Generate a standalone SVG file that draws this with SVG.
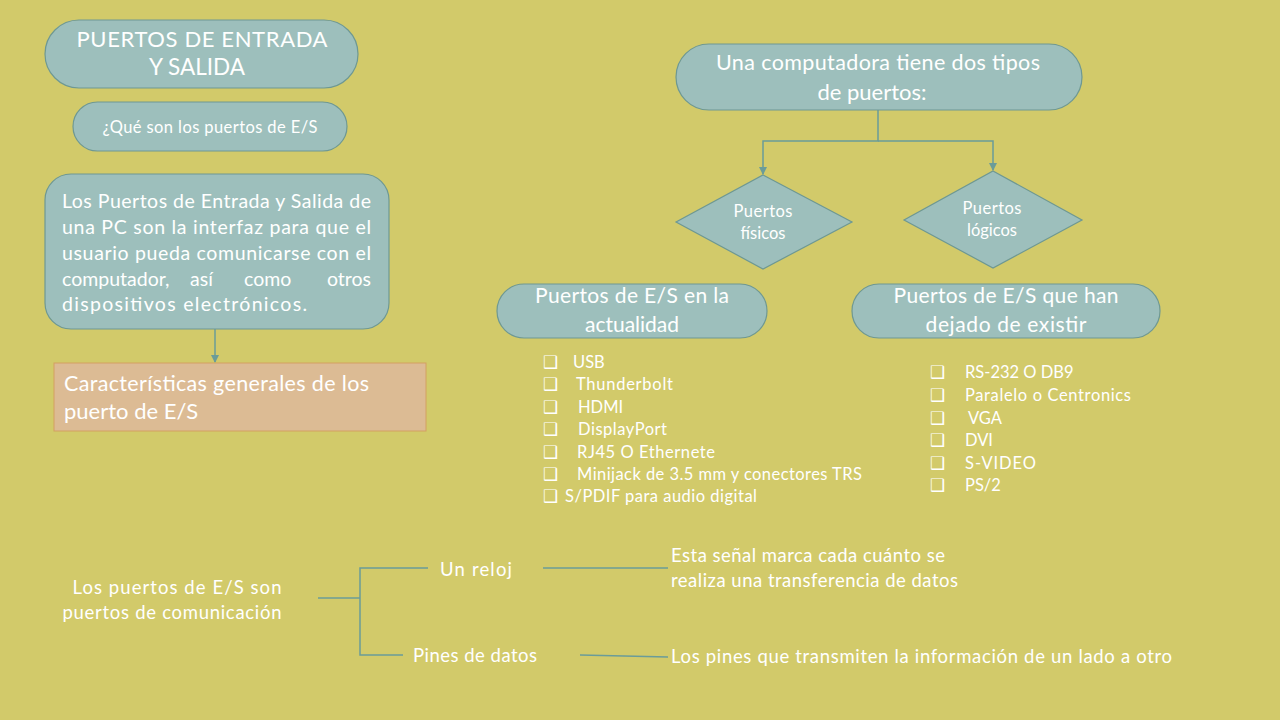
<svg xmlns="http://www.w3.org/2000/svg" width="1280" height="720" viewBox="0 0 1280 720">
<defs>
<style>
.t{font-family:Lato,"Open Sans","Liberation Sans",sans-serif;fill:#FFFFFF;}
.node{fill:#9DBFBC;stroke:#6E9893;stroke-width:1.2;}
.ln{fill:none;stroke:#6A9C99;stroke-width:1.5;}
.cb{font-family:"DejaVu Sans",sans-serif;fill:#FFFFFF;font-size:17px;}
</style>
<marker id="ah" markerWidth="8" markerHeight="8" refX="7" refY="4" orient="auto" markerUnits="userSpaceOnUse">
<path d="M0,0 L8,4 L0,8 Z" fill="#6A9C99"/>
</marker>
</defs>
<rect x="0" y="0" width="1280" height="720" fill="#D2CA6A"/>

<g id="connectors">
<line class="ln" x1="215" y1="329" x2="215" y2="362" marker-end="url(#ah)"/>
<polyline class="ln" points="878,110 878,141 763,141 763,174" marker-end="url(#ah)"/>
<polyline class="ln" points="878,141 993,141 993,170" marker-end="url(#ah)"/>
<line class="ln" x1="318" y1="598" x2="360" y2="598"/>
<polyline class="ln" points="428,568 360,568 360,655 403,655"/>
<line class="ln" x1="543" y1="568" x2="668" y2="568"/>
<line class="ln" x1="580" y1="655" x2="668" y2="657"/>
</g>

<g id="title">
<rect class="node" x="45" y="20" width="313" height="68" rx="34"/>
<text class="t" x="202" y="47" font-size="22" text-anchor="middle" textLength="251" lengthAdjust="spacing">PUERTOS DE ENTRADA</text>
<text class="t" x="197" y="75" font-size="22.5" text-anchor="middle">Y SALIDA</text>
</g>

<g id="que-son">
<rect class="node" x="73" y="102" width="274" height="49" rx="24.5"/>
<text class="t" x="210" y="133" font-size="16.5" text-anchor="middle" textLength="215" lengthAdjust="spacing">¿Qué son los puertos de E/S</text>
</g>

<g id="definicion">
<rect class="node" x="45" y="174" width="344" height="155" rx="26"/>
<text class="t" x="62" y="208" font-size="19.5" textLength="309" lengthAdjust="spacing">Los Puertos de Entrada y Salida de</text>
<text class="t" x="62" y="234" font-size="19.5" textLength="309" lengthAdjust="spacing">una PC son la interfaz para que el</text>
<text class="t" x="62" y="260" font-size="19.5" textLength="309" lengthAdjust="spacing">usuario pueda comunicarse con el</text>
<text class="t" x="62" y="286" font-size="19.5">computador,</text>
<text class="t" x="190" y="286" font-size="19.5">así</text>
<text class="t" x="244" y="286" font-size="19.5">como</text>
<text class="t" x="371" y="286" font-size="19.5" text-anchor="end">otros</text>
<text class="t" x="62" y="311" font-size="19.5" textLength="245" lengthAdjust="spacing">dispositivos electrónicos.</text>
</g>

<g id="caracteristicas">
<rect x="54" y="363" width="372" height="68" fill="#DCBB94" stroke="#D3A060" stroke-width="1"/>
<text class="t" x="64" y="391" font-size="21.5" textLength="305" lengthAdjust="spacing">Características generales de los</text>
<text class="t" x="64" y="419" font-size="22">puerto de E/S</text>
</g>

<g id="tipos">
<rect class="node" x="676" y="44" width="406" height="66" rx="33"/>
<text class="t" x="878" y="70" font-size="21.5" text-anchor="middle" textLength="324" lengthAdjust="spacing">Una computadora tiene dos tipos</text>
<text class="t" x="872" y="100" font-size="22" text-anchor="middle">de puertos:</text>
</g>

<g id="fisicos">
<polygon class="node" points="763,175 852,222 763,269 676,222"/>
<text class="t" x="763" y="217" font-size="16.5" text-anchor="middle" textLength="59" lengthAdjust="spacing">Puertos</text>
<text class="t" x="763" y="239" font-size="16.5" text-anchor="middle">físicos</text>
</g>

<g id="logicos">
<polygon class="node" points="993,171 1082,220 993,268 904,220"/>
<text class="t" x="992" y="214" font-size="16.5" text-anchor="middle" textLength="59" lengthAdjust="spacing">Puertos</text>
<text class="t" x="992" y="236" font-size="16.5" text-anchor="middle">lógicos</text>
</g>

<g id="actualidad">
<rect class="node" x="497" y="284" width="270" height="54" rx="27"/>
<text class="t" x="632" y="303" font-size="21" text-anchor="middle" textLength="194" lengthAdjust="spacing">Puertos de E/S en la</text>
<text class="t" x="632" y="332" font-size="21" text-anchor="middle">actualidad</text>
</g>

<g id="dejado">
<rect class="node" x="852" y="284" width="308" height="54" rx="27"/>
<text class="t" x="1006" y="303" font-size="21" text-anchor="middle" textLength="225" lengthAdjust="spacing">Puertos de E/S que han</text>
<text class="t" x="1006" y="332" font-size="21" text-anchor="middle" textLength="161" lengthAdjust="spacing">dejado de existir</text>
</g>

<g id="lista-actual">
<text class="cb" x="543" y="368">❑</text><text class="t" x="573" y="368" font-size="16.5">USB</text>
<text class="cb" x="543" y="390">❑</text><text class="t" x="576" y="390" font-size="16.5" textLength="97" lengthAdjust="spacing">Thunderbolt</text>
<text class="cb" x="543" y="413">❑</text><text class="t" x="578" y="413" font-size="16.5">HDMI</text>
<text class="cb" x="543" y="435">❑</text><text class="t" x="578" y="435" font-size="16.5" textLength="89" lengthAdjust="spacing">DisplayPort</text>
<text class="cb" x="543" y="458">❑</text><text class="t" x="577" y="458" font-size="16.5" textLength="138" lengthAdjust="spacing">RJ45 O Ethernete</text>
<text class="cb" x="543" y="480">❑</text><text class="t" x="577" y="480" font-size="16.5" textLength="285" lengthAdjust="spacing">Minijack de 3.5 mm y conectores TRS</text>
<text class="cb" x="543" y="502">❑</text><text class="t" x="565" y="502" font-size="16.5" textLength="192" lengthAdjust="spacing">S/PDIF para audio digital</text>
</g>

<g id="lista-antiguos">
<text class="cb" x="930" y="378">❑</text><text class="t" x="965" y="378" font-size="16.5">RS-232 O DB9</text>
<text class="cb" x="930" y="401">❑</text><text class="t" x="965" y="401" font-size="16.5" textLength="166" lengthAdjust="spacing">Paralelo o Centronics</text>
<text class="cb" x="930" y="424">❑</text><text class="t" x="968" y="424" font-size="16.5">VGA</text>
<text class="cb" x="930" y="446">❑</text><text class="t" x="965" y="446" font-size="16.5">DVI</text>
<text class="cb" x="930" y="469">❑</text><text class="t" x="965" y="469" font-size="16.5" textLength="71" lengthAdjust="spacing">S-VIDEO</text>
<text class="cb" x="930" y="491">❑</text><text class="t" x="965" y="491" font-size="16.5">PS/2</text>
</g>

<g id="comunicacion">
<text class="t" x="177" y="594" font-size="18.5" text-anchor="middle" textLength="209" lengthAdjust="spacing">Los puertos de E/S son</text>
<text class="t" x="172" y="619" font-size="18.5" text-anchor="middle" textLength="219" lengthAdjust="spacing">puertos de comunicación</text>
</g>

<g id="reloj">
<text class="t" x="440" y="576" font-size="18.5" textLength="72" lengthAdjust="spacing">Un reloj</text>
</g>

<g id="pines">
<text class="t" x="413" y="662" font-size="18.5" textLength="124" lengthAdjust="spacing">Pines de datos</text>
</g>

<g id="reloj-desc">
<text class="t" x="671" y="562" font-size="18.5" textLength="274" lengthAdjust="spacing">Esta señal marca cada cuánto se</text>
<text class="t" x="671" y="587" font-size="18.5" textLength="287" lengthAdjust="spacing">realiza una transferencia de datos</text>
</g>

<g id="pines-desc">
<text class="t" x="671" y="663" font-size="18.5" textLength="501" lengthAdjust="spacing">Los pines que transmiten la información de un lado a otro</text>
</g>
</svg>
